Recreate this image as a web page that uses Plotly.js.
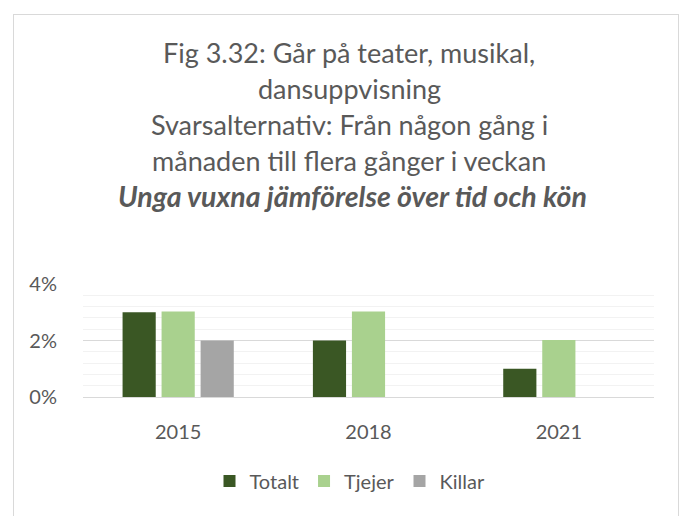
<!DOCTYPE html>
<html>
<head>
<meta charset="utf-8">
<script src="https://cdn.plot.ly/plotly-3.0.1.min.js"></script>
<style>
html,body{margin:0;padding:0;background:#fff;}
#wrap{position:relative;width:685px;height:516px;overflow:hidden;}
#frame{position:absolute;left:13px;top:14px;width:666px;height:520px;border:1px solid #d9d9d9;box-sizing:border-box;}
#chart{position:absolute;left:0;top:0;width:685px;height:516px;}
</style>
</head>
<body>
<div id="wrap"><div id="frame"></div><div id="chart"></div></div>
<script>
const years = ['2015', '2018', '2021'];
const totalt = [0.03, 0.02, 0.01];
const tjejer = [0.0303, 0.0303, 0.0202];
const killar = [0.02, null, null];
const seriesNames = ['Totalt', 'Tjejer', 'Killar'];
const titleLines = [
  'Fig 3.32: Går på teater, musikal,',
  'dansuppvisning',
  'Svarsalternativ: Från någon gång i',
  'månaden till flera gånger i veckan',
  '<b><i>Unga vuxna jämförelse över tid och kön</i></b>'
];
const yTickVals = [0, 0.02, 0.04];
const yTickText = ['0%', '2%', '4%'];

const font = 'Lato, "Open Sans", sans-serif';
const colors = ['#3a5724', '#a9d18e', '#a5a5a5'];
const data = [totalt, tjejer, killar].map((vals, i) => ({
  type: 'bar', x: years, y: vals, name: seriesNames[i],
  marker: {color: colors[i]}, hoverinfo: 'none'
}));

// plot area: top 284px, bottom 397px
const plotTop = 284, plotBottom = 397, plotLeft = 83, plotRight = 654;
const titleCenters = [52, 88, 124, 160, 196];
const titleSizes = [27, 27, 27, 27, 28.5];
const titleX = [349, 349, 349, 349, 352];
const pxToPaperY = py => (plotBottom - py) / (plotBottom - plotTop);
const pxToPaperX = px => (px - plotLeft) / (plotRight - plotLeft);

const annotations = titleLines.map((t, i) => ({
  text: t, xref: 'paper', yref: 'paper',
  x: pxToPaperX(titleX[i]), y: pxToPaperY(titleCenters[i]),
  xanchor: 'center', yanchor: 'middle', showarrow: false,
  font: {family: font, size: titleSizes[i], color: '#595959'}
}));

const layout = {
  width: 685, height: 516,
  paper_bgcolor: 'rgba(0,0,0,0)', plot_bgcolor: 'rgba(0,0,0,0)',
  margin: {l: plotLeft, r: 685 - plotRight, t: plotTop, b: 516 - plotBottom},
  font: {family: font, color: '#595959', size: 20},
  annotations: annotations,
  barmode: 'group', bargap: 0.385, bargroupgap: 0.15,
  xaxis: {
    type: 'category', showgrid: false, showline: false, zeroline: false,
    ticks: 'outside', ticklen: 17, tickcolor: 'rgba(0,0,0,0)',
    tickfont: {size: 20, color: '#595959', family: font}
  },
  yaxis: {
    range: [0, 0.04], tickvals: yTickVals, ticktext: yTickText,
    showgrid: true, gridcolor: '#d9d9d9', gridwidth: 1,
    zeroline: true, zerolinecolor: '#d9d9d9', zerolinewidth: 1,
    showline: false,
    ticks: 'outside', ticklen: 21, tickcolor: 'rgba(0,0,0,0)',
    tickfont: {size: 20, color: '#595959', family: font},
    minor: {dtick: 0.004, tick0: 0, showgrid: true, gridcolor: '#f2f2f2', gridwidth: 1, ticks: ''}
  },
  showlegend: true,
  legend: {
    orientation: 'h', x: pxToPaperX(350), xanchor: 'center', y: pxToPaperY(481), yanchor: 'middle',
    font: {size: 20, color: '#595959', family: font}, traceorder: 'normal',
    itemwidth: 30
  }
};
Plotly.newPlot('chart', data, layout, {displayModeBar: false, staticPlot: true});
</script>
</body>
</html>
